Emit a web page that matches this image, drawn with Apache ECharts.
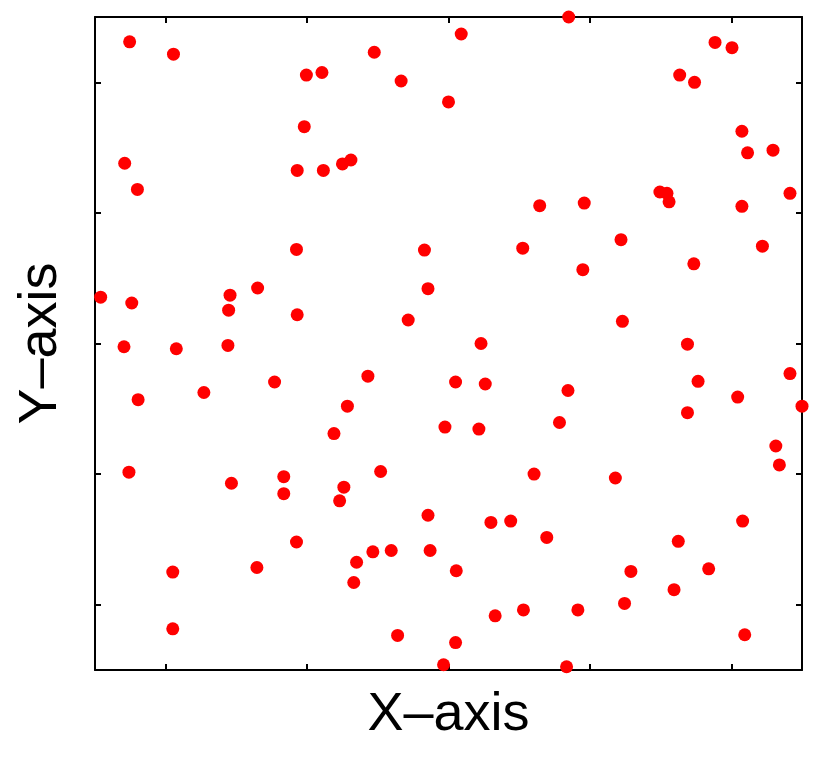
<!DOCTYPE html>
<html>
<head>
<meta charset="utf-8">
<script src="https://cdn.jsdelivr.net/npm/echarts@6/dist/echarts.min.js"></script>
<style>
html,body{margin:0;padding:0;background:#fff;}
#chart{width:830px;height:759px;}
</style>
</head>
<body>
<div id="chart"></div>
<script>
// Data (normalised units, axes span 0..1)
var xValues = [
  0.049,0.111,0.299,0.321,0.296,0.042,0.060,0.286,0.323,0.518,
  0.395,0.433,0.500,0.350,0.362,0.629,0.670,0.877,0.901,0.827,
  0.848,0.915,0.923,0.959,0.799,0.809,0.812,0.692,0.915,0.983,
  0.285,0.008,0.052,0.191,0.230,0.189,0.286,0.041,0.115,0.188,
  0.254,0.061,0.154,0.466,0.605,0.471,0.443,0.546,0.386,0.510,
  0.552,0.357,0.338,0.495,0.543,0.657,0.744,0.690,0.847,0.944,
  0.746,0.838,0.983,0.853,0.669,0.909,1.000,0.838,0.963,0.968,
  0.048,0.193,0.267,0.267,0.285,0.229,0.110,0.110,0.404,0.352,
  0.346,0.471,0.560,0.588,0.621,0.639,0.370,0.393,0.419,0.474,
  0.366,0.511,0.566,0.606,0.428,0.510,0.493,0.667,0.736,0.916,
  0.825,0.758,0.868,0.819,0.749,0.683,0.919
];
var yValues = [
  0.962,0.943,0.911,0.915,0.832,0.776,0.736,0.765,0.765,0.974,
  0.946,0.902,0.870,0.775,0.781,0.711,1.000,0.961,0.953,0.911,
  0.900,0.825,0.792,0.796,0.732,0.730,0.717,0.715,0.710,0.730,
  0.644,0.571,0.562,0.574,0.585,0.551,0.544,0.495,0.492,0.497,
  0.441,0.414,0.425,0.643,0.646,0.584,0.536,0.500,0.450,0.441,
  0.438,0.404,0.362,0.372,0.369,0.379,0.659,0.613,0.622,0.649,
  0.534,0.499,0.454,0.442,0.428,0.418,0.404,0.394,0.343,0.314,
  0.303,0.286,0.296,0.270,0.196,0.157,0.150,0.063,0.304,0.280,
  0.259,0.237,0.226,0.228,0.300,0.203,0.165,0.181,0.183,0.183,
  0.134,0.152,0.083,0.092,0.053,0.042,0.008,0.005,0.294,0.228,
  0.197,0.151,0.155,0.123,0.102,0.092,0.054
];
var tickValues = [0.1, 0.3, 0.5, 0.7, 0.9];
var xName = 'X\u2013axis';
var yName = 'Y\u2013axis';

var points = xValues.map(function (x, i) { return [x, yValues[i]]; });

var lineStyle = { color: '#000', width: 2 };
var tickStyle = { show: true, inside: true, length: 6, customValues: tickValues, lineStyle: { color: '#000', width: 2 } };
function axis(extra) {
  var a = {
    type: 'value', min: 0, max: 1,
    axisLine: { show: true, onZero: false, lineStyle: lineStyle },
    axisTick: tickStyle,
    axisLabel: { show: false },
    splitLine: { show: false }
  };
  for (var k in extra) a[k] = extra[k];
  return a;
}
var nameStyle = { fontFamily: 'Liberation Sans, Arial, sans-serif', fontSize: 54, color: '#000' };

var chart = echarts.init(document.getElementById('chart'), null, { renderer: 'canvas' });
chart.setOption({
  animation: false,
  backgroundColor: '#fff',
  grid: { left: 95, top: 17, width: 707, height: 653, containLabel: false },
  xAxis: [
    axis({ position: 'bottom', name: xName, nameLocation: 'middle', nameGap: 18, nameTextStyle: nameStyle }),
    axis({ position: 'top' })
  ],
  yAxis: [
    axis({ position: 'left', name: yName, nameLocation: 'middle', nameGap: 27, nameTextStyle: nameStyle }),
    axis({ position: 'right' })
  ],
  series: [{
    type: 'scatter',
    xAxisIndex: 0, yAxisIndex: 0,
    symbol: 'circle',
    symbolSize: 13,
    clip: false,
    itemStyle: { color: '#ff0000', opacity: 1 },
    data: points
  }]
});
</script>
</body>
</html>
